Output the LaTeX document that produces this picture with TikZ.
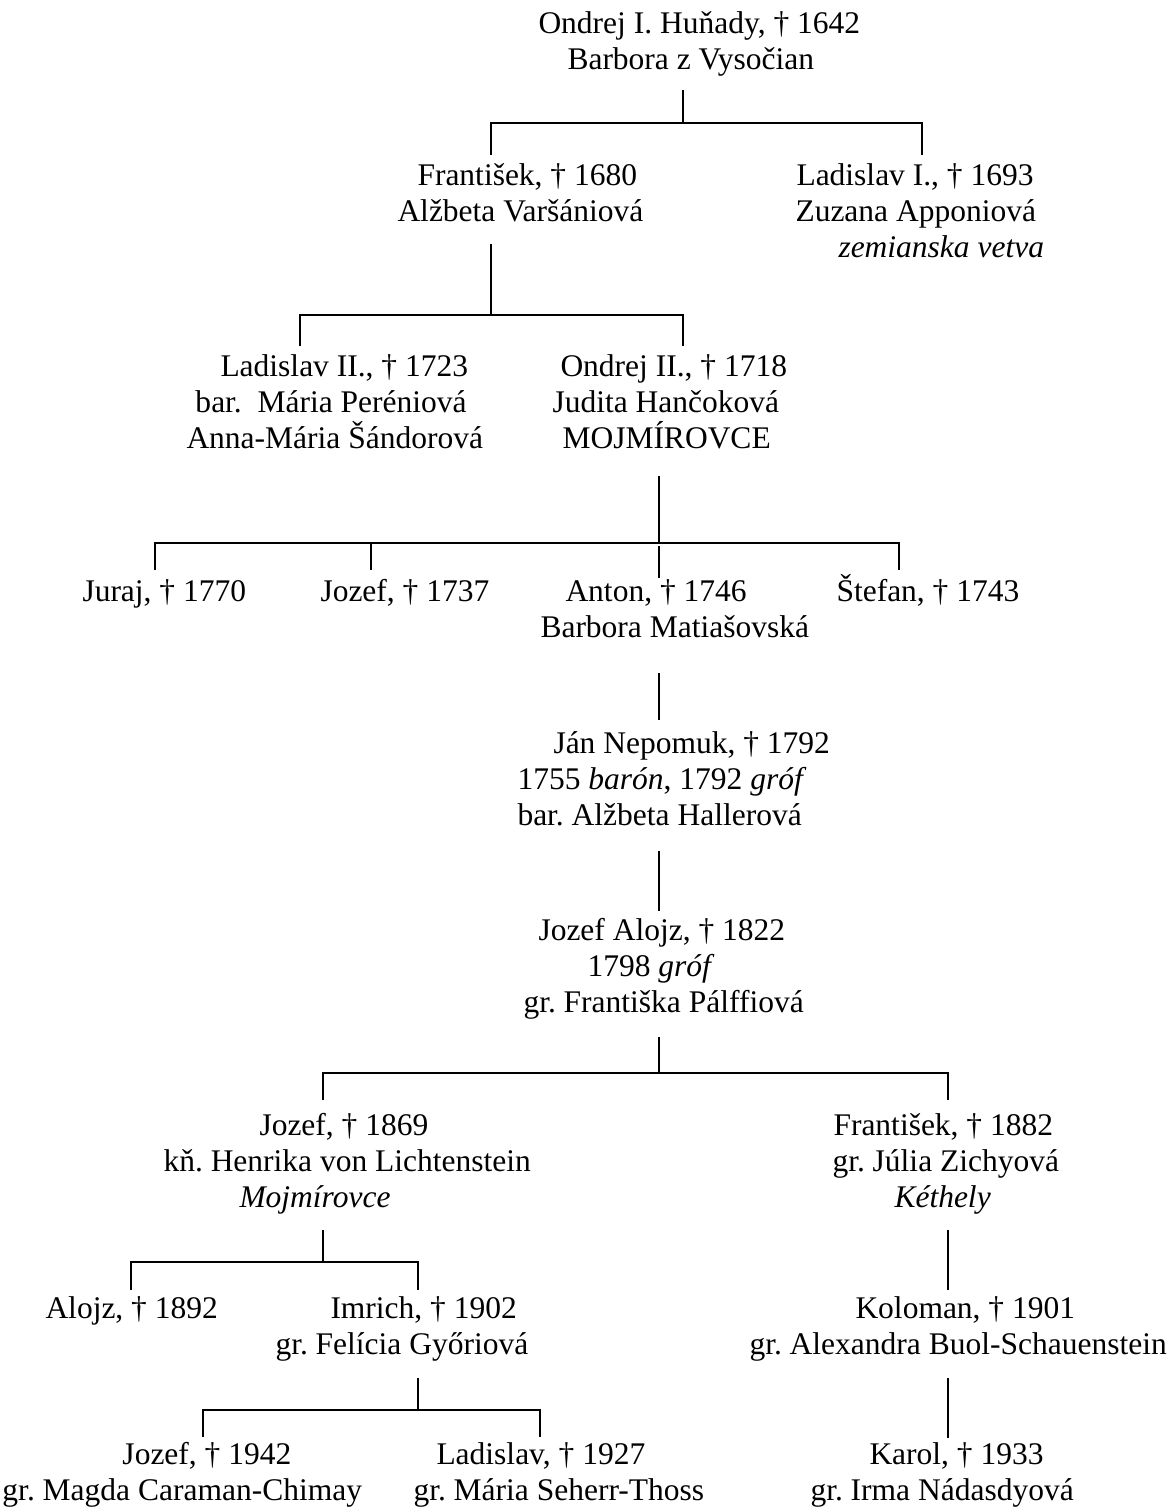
\documentclass[tikz,border=0pt]{standalone}
\usepackage{fontspec}
\setmainfont{Liberation Serif}
\usetikzlibrary{calc}
\frenchspacing
\newlength{\pxu}
\setlength{\pxu}{0.4pt}
\newcommand{\indentby}[1]{\hspace*{#1\pxu}}
\tikzset{
	person/.style={anchor=base west,align=left,inner sep=0pt,font=\fontsize{12.6}{14.4}\selectfont},
	tree/.style={black,line width=0.75pt}
}
\begin{document}
\begin{tikzpicture}[x=0.4pt,y=-0.4pt]
	\useasboundingbox (0,0) rectangle (1171,1508);
	
	%PERSONS (placed at the baseline of their last line)
	\node[person] (ondrej1) at (538,69) {Ondrej I. Huňady, † 1642\\\indentby{29}Barbora z Vysočian};
	%
	\node[person] (frantisek1) at (397,221) {\indentby{20}František, † 1680\\Alžbeta Varšániová};
	\node[person] (ladislav1) at (795,257) {\indentby{1}Ladislav I., † 1693\\Zuzana Apponiová\\\indentby{43}\textit{zemianska vetva}};
	%
	\node[person] (ladislav2) at (186,448) {\indentby{34}Ladislav II., † 1723\\\indentby{9}bar.\ \ Mária Peréniová\\Anna-Mária Šándorová};
	\node[person] (ondrej2) at (552,448) {\indentby{8}Ondrej II., † 1718\\Judita Hančoková\\\indentby{10}MOJMÍROVCE};
	%
	\node[person] (juraj) at (82,601) {Juraj, † 1770};
	\node[person] (jozef1) at (320,601) {Jozef, † 1737};
	\node[person] (anton) at (540,637) {\indentby{25}Anton, † 1746\\Barbora Matiašovská};
	\node[person] (stefan) at (836,601) {Štefan, † 1743};
	%
	\node[person] (jan) at (517,825) {\indentby{36}Ján Nepomuk, † 1792\\1755 \textit{barón}, 1792 \textit{gróf}\\bar. Alžbeta Hallerová};
	\node[person] (jozefalojz) at (523,1012) {\indentby{15}Jozef Alojz, † 1822\\\indentby{64}1798 \textit{gróf}\\gr. Františka Pálffiová};
	%
	\node[person] (jozef2) at (163,1207) {\indentby{96}Jozef, † 1869\\kň. Henrika von Lichtenstein\\\indentby{76}\textit{Mojmírovce}};
	\node[person] (frantisek2) at (832,1207) {\indentby{1}František, † 1882\\gr. Júlia Zichyová\\\indentby{62}\textit{Kéthely}};
	%
	\node[person] (alojz) at (45,1318) {Alojz, † 1892};
	\node[person] (imrich) at (275,1354) {\indentby{55}Imrich, † 1902\\gr. Felícia Győriová};
	\node[person] (koloman) at (749,1354) {\indentby{106}Koloman, † 1901\\gr. Alexandra Buol-Schauenstein};
	%
	\node[person] (jozef3) at (2,1500) {\indentby{120}Jozef, † 1942\\gr. Magda Caraman-Chimay};
	\node[person] (ladislav3) at (413,1500) {\indentby{23}Ladislav, † 1927\\gr. Mária Seherr-Thoss};
	\node[person] (karol) at (810,1500) {\indentby{59}Karol, † 1933\\gr. Irma Nádasdyová};
	
	%LINES
	\coordinate (fork1) at (683,123); \coordinate (fork1l) at (491,123); \coordinate (fork1r) at (922,123);
	\draw[tree] ($(ondrej1.south -| fork1)+(0,14)$) -- (fork1);
	\draw[tree] (fork1l) ++(0,32) |- (fork1r) -- ++(0,32);
	%
	\coordinate (fork2) at (491,315); \coordinate (fork2l) at (300,315); \coordinate (fork2r) at (683,315);
	\draw[tree] ($(frantisek1.south -| fork2)+(0,22)$) -- (fork2);
	\draw[tree] (fork2l) ++(0,31) |- (fork2r) -- ++(0,31);
	%
	\coordinate (fork3) at (659,543); \coordinate (fork3l) at (155,543);
	\coordinate (fork3m) at (371,543); \coordinate (fork3r) at (899,543);
	\draw[tree] ($(ondrej2.south -| fork3)+(0,27)$) -- (fork3);
	\draw[tree] (fork3l) ++(0,27) |- (fork3r) -- ++(0,27);
	\draw[tree] (fork3m) -- ++(0,27);
	\draw[tree] (fork3) ++(0,3) -- ($(anton.north -| fork3)+(0,-1)$); %to Anton
	%
	\draw[tree] ($(anton.south -| fork3)+(0,35)$) -- ($(jan.north -| fork3)+(0,-11)$);
	\draw[tree] ($(jan.south -| fork3)+(0,25)$) -- ($(jozefalojz.north -| fork3)+(0,-6)$);
	%
	\coordinate (fork4) at (659,1073); \coordinate (fork4l) at (323,1073); \coordinate (fork4r) at (948,1073);
	\draw[tree] ($(jozefalojz.south -| fork4)+(0,18)$) -- (fork4);
	\draw[tree] (fork4l) ++(0,27) |- (fork4r) -- ++(0,27);
	%
	\coordinate (fork5) at (323,1262); \coordinate (fork5l) at (131,1262); \coordinate (fork5r) at (418,1262);
	\draw[tree] ($(jozef2.south -| fork5)+(0,16)$) -- (fork5);
	\draw[tree] (fork5l) ++(0,28) |- (fork5r) -- ++(0,28);
	\draw[tree] ($(frantisek2.south -| fork4r)+(0,16)$) -- ($(koloman.north -| fork4r)+(0,-6)$); %Kethely line
	%
	\coordinate (fork6) at (418,1410); \coordinate (fork6l) at (203,1410); \coordinate (fork6r) at (540,1410);
	\draw[tree] ($(imrich.south -| fork6)+(0,17)$) -- (fork6);
	\draw[tree] (fork6l) ++(0,27) |- (fork6r) -- ++(0,27);
	\draw[tree] ($(koloman.south -| fork4r)+(0,17)$) -- ($(karol.north -| fork4r)+(0,-4)$);
\end{tikzpicture}
\end{document}
